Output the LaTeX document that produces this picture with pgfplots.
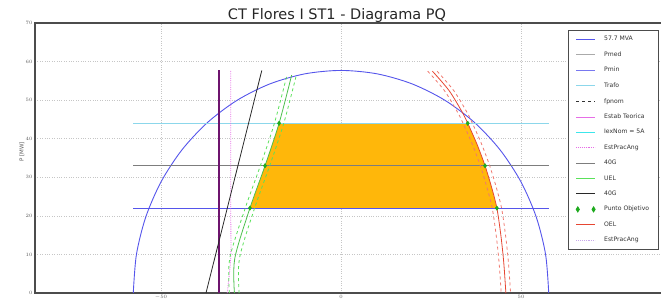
\documentclass[border=0pt]{standalone}
\usepackage{fontspec}
\setmainfont{DejaVu Sans}
\usepackage{pgfplots}
\pgfplotsset{compat=1.18}
\definecolor{mvablue}{RGB}{85,85,235}
\definecolor{pminblue}{RGB}{120,120,240}
\definecolor{pmed}{RGB}{125,125,125}
\definecolor{pmedl}{RGB}{170,170,170}
\definecolor{trafo}{RGB}{140,215,235}
\definecolor{estab}{RGB}{110,20,110}
\definecolor{iex}{RGB}{60,230,235}
\definecolor{epa}{RGB}{230,110,230}
\definecolor{g40}{RGB}{40,40,40}
\definecolor{uel}{RGB}{90,225,90}
\definecolor{oel}{RGB}{230,70,50}
\definecolor{oeld}{RGB}{240,120,110}
\definecolor{fillor}{RGB}{255,183,10}
\definecolor{lav}{RGB}{200,170,235}
\definecolor{ptob}{RGB}{30,170,30}
\newcommand{\legline}[2]{\addlegendimage{legend image code/.code={\draw[draw=none] (0pt,0pt) -- (26pt,0pt); \draw[#1] (0pt,0pt) -- (19pt,0pt);}}\addlegendentry{#2}}
\begin{document}
\begin{tikzpicture}[x=1pt,y=1pt]
\begin{axis}[
  at={(0,0)}, anchor=south west,
  scale only axis, width=630pt, height=270pt,
  xmin=-85, xmax=90, ymin=0, ymax=70,
  xtick={-50,0,50}, ytick={0,10,...,70},
  grid=major, major grid style={dotted, gray!45, line width=0.7pt},
  axis line style={draw=gray!60!black, line width=1.1pt},
  tick style={draw=none},
  tick label style={font=\fontsize{5.2}{6}\selectfont, text=gray!70!black},
  xticklabel style={yshift=1pt},
  yticklabel style={xshift=1pt},
  legend style={at={(rel axis cs:0.846,0.974)}, anchor=north west, font=\fontsize{6.1}{7}\selectfont,
    draw=gray!60!black, line width=0.8pt, fill=white, row sep=5.4pt, inner xsep=7pt, inner ysep=4pt, text=black!80},
  legend cell align=left,
  clip=false,
]
% legend entries
\legline{draw=mvablue, line width=1.6pt}{57.7 MVA}
\legline{draw=pmedl, line width=0.9pt}{Pmed}
\legline{draw=pminblue, line width=0.9pt}{Pmin}
\legline{draw=trafo, line width=0.9pt}{Trafo}
\legline{draw=black!80, dashed, line width=0.9pt}{fpnom}
\legline{draw=epa, line width=0.9pt}{Estab Teorica}
\legline{draw=iex, line width=0.9pt}{IexNom = 5A}
\legline{draw=epa, densely dotted, line width=0.9pt}{EstPracAng}
\legline{draw=pmed, line width=0.9pt}{40G}
\legline{draw=uel, line width=0.9pt}{UEL}
\legline{draw=g40, line width=0.9pt}{40G}
\addlegendimage{legend image code/.code={\draw[draw=none] (0pt,0pt) -- (26pt,0pt);
  \fill[ptob] (0pt,0pt) -- (1.6pt,2.6pt) -- (3.2pt,0pt) -- (1.6pt,-2.6pt) -- cycle;
  \fill[ptob] (15.8pt,0pt) -- (17.4pt,2.6pt) -- (19pt,0pt) -- (17.4pt,-2.6pt) -- cycle;}}\addlegendentry{Punto Objetivo}
\legline{draw=oel, line width=0.9pt}{OEL}
\legline{draw=lav, densely dotted, line width=0.9pt}{EstPracAng}

% orange operating region
\addplot[draw=none, fill=fillor, forget plot] coordinates {
 (-25.3,22) (-21.1,33) (-17.2,44) (35.2,44) (37.8,38.5) (40,33) (41.8,27.5) (43.3,22)} -- cycle;

% capability circle
\addplot[mvablue, line width=0.9pt, smooth, forget plot] coordinates {
 (57.7,0) (56.82,10.02) (54.22,19.73) (49.97,28.85) (44.20,37.09) (37.09,44.20) (28.85,49.97)
 (19.73,54.22) (10.02,56.82) (0,57.7) (-10.02,56.82) (-19.73,54.22) (-28.85,49.97) (-37.09,44.20)
 (-44.20,37.09) (-49.97,28.85) (-54.22,19.73) (-56.82,10.02) (-57.7,0)};

% horizontal lines
\addplot[trafo, line width=0.8pt, forget plot] coordinates {(-57.7,44) (57.7,44)};
\addplot[pmed, line width=0.8pt, forget plot] coordinates {(-57.7,33) (57.7,33)};
\addplot[mvablue, line width=0.8pt, forget plot] coordinates {(-57.7,22) (57.7,22)};

% estab teorica
\addplot[estab, line width=2pt, forget plot] coordinates {(-33.9,0) (-33.9,57.7)};
% est prac ang
\addplot[epa, densely dotted, line width=0.8pt, smooth, forget plot] coordinates {
 (-31.6,0) (-31.0,5) (-30.6,10) (-30.6,20) (-30.6,57.7)};
% 40G
\addplot[g40, line width=0.8pt, forget plot] coordinates {(-37.5,0) (-22,57.7)};

% UEL
\addplot[uel, dashed, line width=0.8pt, smooth, forget plot] coordinates {
 (-31.0,0) (-30.9,9) (-26.6,22) (-22.4,33) (-18.5,44) (-15.0,56.5)};
\addplot[uel, dashed, line width=0.8pt, smooth, forget plot] coordinates {
 (-28.3,0) (-28.2,9) (-24.0,22) (-19.8,33) (-15.9,44) (-12.4,56.5)};
\addplot[uel!85!black, line width=0.8pt, smooth, forget plot] coordinates {
 (-29.6,0) (-29.5,9) (-25.3,22) (-21.1,33) (-17.2,44) (-13.7,56.5)};

% OEL
\addplot[oeld, dashed, line width=0.8pt, smooth, forget plot] coordinates {
 (24.1,57.5) (28.7,52.5) (32.3,47) (33.9,44) (36.5,38.5) (38.7,33) (40.5,27.5) (42.0,22) (43.1,15) (43.9,8) (44.5,0)};
\addplot[oeld, dashed, line width=0.8pt, smooth, forget plot] coordinates {
 (26.7,57.5) (31.3,52.5) (34.9,47) (36.5,44) (39.1,38.5) (41.3,33) (43.1,27.5) (44.6,22) (45.7,15) (46.5,8) (47.1,0)};
\addplot[oel, line width=0.8pt, smooth, forget plot] coordinates {
 (25.4,57.5) (30,52.5) (33.6,47) (35.2,44) (37.8,38.5) (40,33) (41.8,27.5) (43.3,22) (44.4,15) (45.2,8) (45.8,0)};

% target points
\addplot[only marks, mark=diamond*, mark size=2.2pt, ptob, forget plot] coordinates {
 (-25.3,22) (-21.1,33) (-17.2,44) (35.2,44) (40,33) (43.3,22)};
\end{axis}
\node[font=\fontsize{14.5}{16}\selectfont, text=black!85, anchor=base] at (302,273) {CT Flores I ST1 - Diagrama PQ};
\node[font=\fontsize{5.5}{6}\selectfont, text=gray!70!black, rotate=90] at (-13,141) {P [MW]};
\pgfresetboundingbox
\path[use as bounding box] (-35,-12) rectangle (626,293);
\end{tikzpicture}
\end{document}
